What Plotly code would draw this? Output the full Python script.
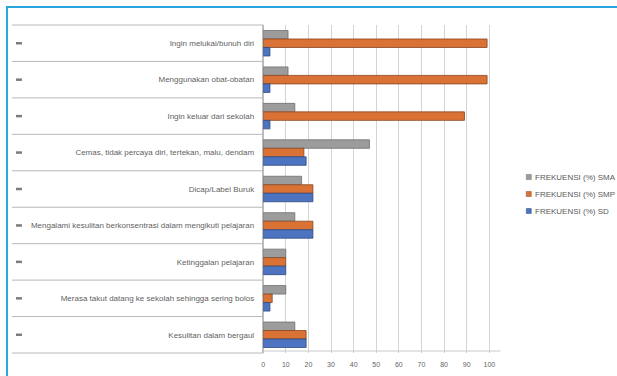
import plotly.graph_objects as go

W, H = 617, 376

categories = [
    "Ingin melukai/bunuh diri",
    "Menggunakan obat-obatan",
    "Ingin keluar dari sekolah",
    "Cemas, tidak percaya diri, tertekan, malu, dendam",
    "Dicap/Label Buruk",
    "Mengalami kesulitan berkonsentrasi dalam mengikuti pelajaran",
    "Ketinggalan pelajaran",
    "Merasa takut datang ke sekolah sehingga sering bolos",
    "Kesulitan dalam bergaul",
]
sma = [11, 11, 14, 47, 17, 14, 10, 10, 14]
smp = [99, 99, 89, 18, 22, 22, 10, 4, 19]
sd = [3, 3, 3, 19, 22, 22, 10, 3, 19]
x_ticks = [0, 10, 20, 30, 40, 50, 60, 70, 80, 90, 100]

series = [
    ("FREKUENSI (%) SMA", sma, "#9c9c9c", "#6e6e6e"),
    ("FREKUENSI (%) SMP", smp, "#da7236", "#8a4520"),
    ("FREKUENSI (%) SD", sd, "#4d74c0", "#2e4a80"),
]


def px(x):
    return x / W


def py(y):
    return 1 - y / H


fig = go.Figure()
for name, vals, color, edge in series:
    fig.add_trace(go.Bar(
        y=categories, x=vals, name=name, orientation="h",
        marker=dict(color=color, line=dict(color=edge, width=0.8)),
    ))

row_top, row_bot = 25, 353
shapes = []
annotations = []
# outer frame
shapes.append(dict(type="rect", xref="paper", yref="paper",
                   x0=px(5), x1=px(W + 20), y0=py(7), y1=py(H + 20),
                   line=dict(color="#2aa6df", width=2)))
# table row separators in the label column
n = len(categories)
step = (row_bot - row_top) / n
for i in range(n + 1):
    yy = row_top + i * step
    shapes.append(dict(type="line", xref="paper", yref="paper",
                       x0=px(10), x1=px(262), y0=py(yy), y1=py(yy),
                       line=dict(color="#b8b8b8", width=1)))
# small marks in the first table column
for i in range(n):
    yy = row_top + (i + 0.5) * step
    shapes.append(dict(type="line", xref="paper", yref="paper",
                       x0=px(14), x1=px(20), y0=py(yy), y1=py(yy),
                       line=dict(color="#7c7c7c", width=2.5)))
# chart floor
shapes.append(dict(type="line", xref="paper", yref="paper",
                   x0=px(262), x1=px(500), y0=py(row_bot - 2), y1=py(row_bot - 2),
                   line=dict(color="#c8c8c8", width=1)))

# compact legend: small colour squares with their series names
legend_y = [177, 194, 211]
for (name, _, color, edge), ly in zip(series, legend_y):
    shapes.append(dict(type="rect", xref="paper", yref="paper",
                       x0=px(526), x1=px(531), y0=py(ly - 2.5), y1=py(ly + 2.5),
                       fillcolor=color, line=dict(color=edge, width=0.5)))
    annotations.append(dict(xref="paper", yref="paper", x=px(533), y=py(ly),
                            xanchor="left", yanchor="middle", showarrow=False,
                            text=name, font=dict(size=8, color="#5a5a5a")))

fig.update_layout(
    width=W, height=H,
    margin=dict(l=0, r=0, t=0, b=0),
    paper_bgcolor="white", plot_bgcolor="white",
    barmode="group", bargap=0.3, bargroupgap=0,
    font=dict(family="Liberation Sans, Arial, sans-serif", size=8, color="#5f5f5f"),
    showlegend=False,
    xaxis=dict(domain=[px(262), px(498)], range=[0, 104],
               tickvals=x_ticks, showgrid=True, gridcolor="#d4d4d4",
               gridwidth=1, zeroline=True, zerolinecolor="#bdbdbd",
               showline=False, ticks="", tickfont=dict(size=7),
               ticklabelstandoff=6),
    yaxis=dict(domain=[py(row_bot), py(row_top)], autorange="reversed",
               ticks="", showgrid=False, showline=False,
               ticklabelstandoff=8, tickfont=dict(size=8)),
    shapes=shapes,
    annotations=annotations,
)

fig.write_html("out.html")
